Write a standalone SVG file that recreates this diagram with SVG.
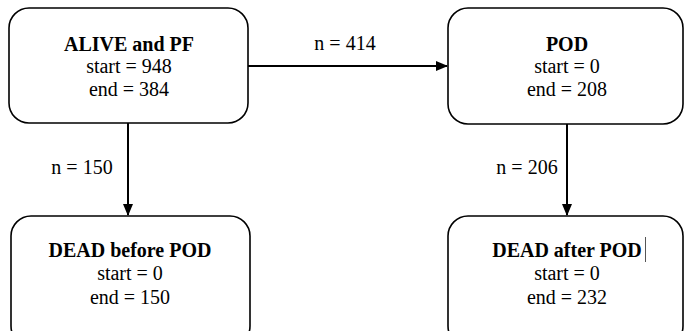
<svg xmlns="http://www.w3.org/2000/svg" width="684" height="331" viewBox="0 0 684 331">
<defs>
<marker id="ah" markerWidth="12" markerHeight="10" refX="11" refY="5" orient="auto" markerUnits="userSpaceOnUse">
<path d="M0,0 L12,5 L0,10 z" fill="#000"/>
</marker>
</defs>
<rect width="684" height="331" fill="#fff"/>
<g id="connectors" stroke="#000" stroke-width="2" fill="none">
<line x1="248" y1="66" x2="447" y2="66" marker-end="url(#ah)"/>
<line x1="128" y1="123" x2="128" y2="215" marker-end="url(#ah)"/>
<line x1="567" y1="124" x2="567" y2="215" marker-end="url(#ah)"/>
</g>
<g id="labels" font-family="Liberation Serif" font-size="20" text-anchor="middle" fill="#000">
<text x="345" y="50">n = 414</text>
<text x="82" y="174">n = 150</text>
<text x="527" y="174">n = 206</text>
</g>
<g id="alive" font-family="Liberation Serif" font-size="20" text-anchor="middle" fill="#000">
<rect x="9" y="8" width="239" height="115" rx="20" fill="#fff" stroke="#000" stroke-width="1.6"/>
<text font-weight="bold" x="129" y="51">ALIVE and PF</text>
<text x="129" y="73">start = 948</text>
<text x="129" y="96">end = 384</text>
</g>
<g id="pod" font-family="Liberation Serif" font-size="20" text-anchor="middle" fill="#000">
<rect x="448" y="8" width="235" height="116" rx="20" fill="#fff" stroke="#000" stroke-width="1.6"/>
<text font-weight="bold" x="567" y="51">POD</text>
<text x="567" y="73">start = 0</text>
<text x="567" y="96">end = 208</text>
</g>
<g id="deadBefore" font-family="Liberation Serif" font-size="20" text-anchor="middle" fill="#000">
<rect x="11" y="216" width="239" height="130" rx="20" fill="#fff" stroke="#000" stroke-width="1.6"/>
<text font-weight="bold" x="130" y="257">DEAD before POD</text>
<text x="130" y="280">start = 0</text>
<text x="130" y="304">end = 150</text>
</g>
<g id="deadAfter" font-family="Liberation Serif" font-size="20" text-anchor="middle" fill="#000">
<rect x="448" y="216" width="235" height="130" rx="20" fill="#fff" stroke="#000" stroke-width="1.6"/>
<text font-weight="bold" x="567" y="257">DEAD after POD</text>
<text x="567" y="280">start = 0</text>
<text x="567" y="304">end = 232</text>
<line x1="645.5" y1="237" x2="645.5" y2="262" stroke="#555" stroke-width="1"/>
</g>
</svg>
